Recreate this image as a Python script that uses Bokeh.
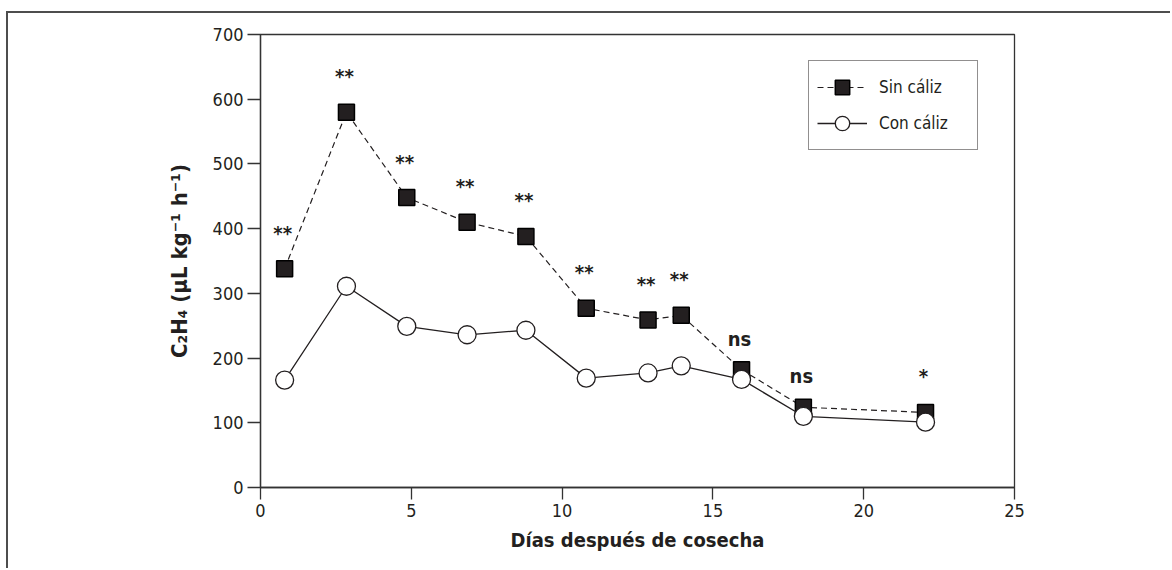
from bokeh.core.properties import value
from bokeh.embed import file_html
from bokeh.models import (BooleanFilter, CDSView, ColumnDataSource, FixedTicker,
                          Legend, LegendItem, Range1d)
from bokeh.plotting import figure
from bokeh.resources import INLINE
import numpy as np

# Ethylene production by days after harvest, fruit with and without calyx
dias = [0.8, 2.85, 4.85, 6.85, 8.8, 10.8, 12.85, 13.95, 15.95, 18.0, 22.05]
sin_caliz = [338, 580, 448, 410, 388, 277, 259, 266, 182, 124, 116]
con_caliz = [166, 311, 249, 236, 243, 169, 177, 188, 167, 110, 101]
significancia = ["**", "**", "**", "**", "**", "**", "**", "**", "ns", "ns", "*"]

x_ticks = [0, 5, 10, 15, 20, 25]
y_ticks = [0, 100, 200, 300, 400, 500, 600, 700]

FONT = "'DejaVu Sans Condensed', 'Liberation Sans Narrow', Roboto, sans-serif"
INK = "#231f20"
RULE = "#4d4d4d"

src = ColumnDataSource(dict(
    dia=dias,
    sin=sin_caliz,
    con=con_caliz,
    top=np.maximum(sin_caliz, con_caliz),
    sig=significancia,
))

# the page rule runs along the top and left edges of the figure
p = figure(width=1164, height=557,
           x_range=Range1d(0, 25), y_range=Range1d(0, 700),
           output_backend="svg", toolbar_location=None,
           min_border_left=252, min_border_right=158,
           min_border_top=21, min_border_bottom=83,
           background_fill_color="white", border_fill_color="white",
           margin=(11, 0, 0, 6),
           styles={"border-top": f"2px solid {RULE}",
                   "border-left": f"2px solid {RULE}"})

p.xgrid.visible = False
p.ygrid.visible = False
p.outline_line_color = "#333333"
p.outline_line_width = 1.3

# axes
for ax in (p.xaxis[0], p.yaxis[0]):
    ax.axis_line_color = "#333333"
    ax.axis_line_width = 1.3
    ax.major_tick_line_color = "#333333"
    ax.major_tick_line_width = 1.3
    ax.major_tick_in = 0
    ax.minor_tick_line_color = None
    ax.major_label_text_font = FONT
    ax.major_label_text_font_size = "18px"
    ax.major_label_text_color = INK
    ax.axis_label_text_font = FONT
    ax.axis_label_text_font_style = "bold"
    ax.axis_label_text_color = INK

p.xaxis.ticker = FixedTicker(ticks=x_ticks)
p.yaxis.ticker = FixedTicker(ticks=y_ticks)
p.xaxis.major_tick_out = 12
p.yaxis.major_tick_out = 13
p.xaxis.major_label_standoff = 4
p.yaxis.major_label_standoff = 4
p.xaxis.axis_label = "Días después de cosecha"
p.yaxis.axis_label = "C₂H₄ (μL kg⁻¹ h⁻¹)"
p.xaxis.axis_label_text_font_size = "20px"
p.yaxis.axis_label_text_font_size = "22px"
p.xaxis.axis_label_standoff = 8
p.yaxis.axis_label_standoff = 18

# series without calyx: dashed line, filled squares
l_sin = p.line("dia", "sin", source=src, line_color=INK, line_width=1.2,
               line_dash="6 4")
m_sin = p.scatter("dia", "sin", source=src, marker="square", size=16,
                  fill_color=INK, line_color="black", line_width=1.5)

# series with calyx: solid line, open circles
l_con = p.line("dia", "con", source=src, line_color=INK, line_width=1.3)
m_con = p.scatter("dia", "con", source=src, marker="circle", size=18,
                  fill_color="white", line_color=INK, line_width=1.3)

# significance marks above each day (asterisks sit higher in the line box)
is_star = [s != "ns" for s in significancia]
text_style = dict(text_align="center", text_baseline="alphabetic",
                  text_font=value(FONT), text_font_style="bold",
                  text_font_size="20px", text_color=INK)
p.text("dia", "top", text="sig", source=src, x_offset=-2, y_offset=-36,
       view=CDSView(filter=BooleanFilter(is_star)), **text_style)
p.text("dia", "top", text="sig", source=src, x_offset=-2, y_offset=-31,
       view=CDSView(filter=BooleanFilter([not s for s in is_star])),
       **text_style)

legend = Legend(items=[LegendItem(label="Sin cáliz", renderers=[l_sin, m_sin]),
                       LegendItem(label="Con cáliz", renderers=[l_con, m_con])],
                location=(548, 337), margin=0, padding=8, spacing=0,
                glyph_width=50, glyph_height=36, label_standoff=12,
                label_width=90,
                label_text_font=FONT, label_text_font_size="17px",
                label_text_color=INK,
                border_line_color=INK, border_line_width=1.3,
                background_fill_color="white", background_fill_alpha=1)
p.add_layout(legend)

open("out.html", "w").write(file_html(p, INLINE))
